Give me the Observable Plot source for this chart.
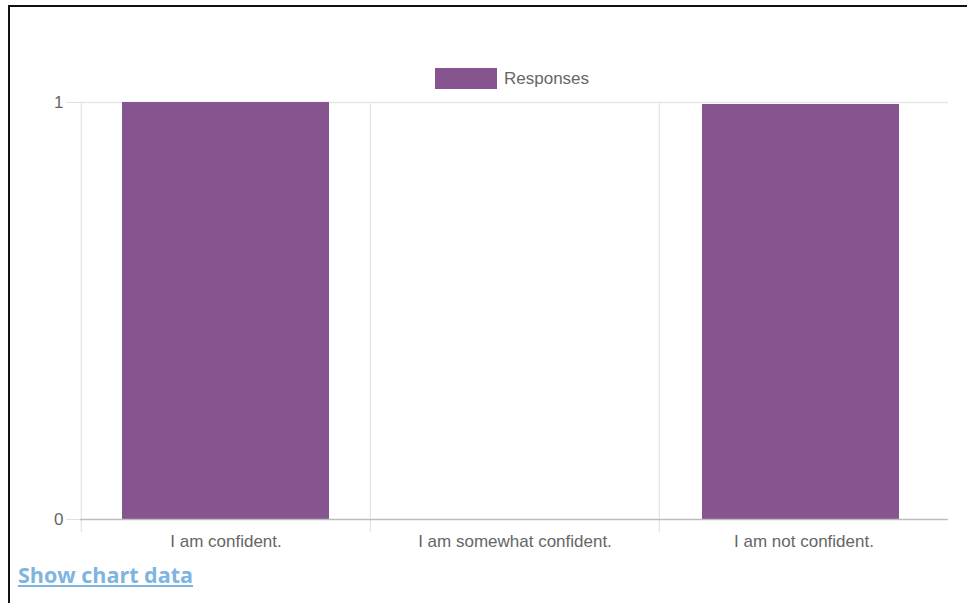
<!DOCTYPE html>
<html>
<head>
<meta charset="utf-8">
<script src="https://cdn.jsdelivr.net/npm/d3@7"></script>
<script src="https://cdn.jsdelivr.net/npm/@observablehq/plot@0.6"></script>
<style>
  html, body { margin: 0; padding: 0; background: #fff; width: 967px; height: 603px; overflow: hidden; }
  #frame { position: absolute; left: 8px; top: 5px; width: 980px; height: 620px; border-top: 2px solid #111; border-left: 2px solid #111; box-sizing: border-box; }
  #chart { position: absolute; left: 0; top: 0; }
  #legend { position: absolute; left: 435px; top: 68px; display: flex; align-items: center; font-family: "Liberation Sans", Arial, sans-serif; font-size: 17px; color: #666; }
  #legend .sw { width: 62px; height: 21px; background: #86548f; margin-right: 7px; }
  #link { position: absolute; left: 18px; top: 560px; font-family: "Open Sans", sans-serif; font-weight: 700; font-size: 21.5px; color: #7db4e0; text-decoration: underline; }
</style>
</head>
<body>
<div id="frame"></div>
<div id="chart"></div>
<div id="legend"><div class="sw"></div><span>Responses</span></div>
<div id="link">Show chart data</div>
<script>
const categories = ["I am confident.", "I am somewhat confident.", "I am not confident."];
const responses = [1, 0, 1];
const yTicks = [0, 1];
const seriesName = "Responses";

const data = categories.map((c, i) => ({category: c, value: responses[i]}));

const W = 967, H = 560, ML = 80, MR = 19, MT = 102, MB = 41;
const step = (W - ML - MR) / categories.length;

const chart = Plot.plot({
  width: W,
  height: H,
  marginLeft: ML,
  marginRight: MR,
  marginTop: MT,
  marginBottom: MB,
  style: {fontFamily: "'Liberation Sans', Arial, sans-serif", fontSize: "17px", color: "#666", background: "transparent"},
  x: {domain: categories, paddingInner: 0.285, paddingOuter: 0.1425, label: null},
  y: {domain: [0, 1], label: null},
  marks: [
    Plot.ruleX(categories, {x: d => d, dx: -step / 2, y1: 0, y2: 1, stroke: "#e6e6e6", strokeWidth: 1.3}),
    Plot.ruleX(categories, {x: d => d, dx: -step / 2, y1: 0, y2: 0, insetBottom: -13, stroke: "#e6e6e6", strokeWidth: 1.3}),
    Plot.gridY([1], {stroke: "#e6e6e6", strokeOpacity: 1, strokeWidth: 1.3}),
    Plot.barY(data.filter(d => d.category !== categories[2]), {x: "category", y: "value", fill: "#86548f"}),
    Plot.barY(data.filter(d => d.category === categories[2]), {x: "category", y: "value", fill: "#86548f", insetLeft: 2, insetRight: 8, insetTop: 2}),
    Plot.ruleY([0], {stroke: "#bdbdbd", strokeWidth: 1.3}),
    Plot.axisY(yTicks, {tickSize: 14, tickPadding: 3, stroke: "#e0e0e0", fill: "#666", fontSize: 17, tickFormat: d3.format("d")}),
    Plot.axisX({tickSize: 0, tickPadding: 15, fill: "#666", fontSize: 17})
  ]
});
document.getElementById("chart").appendChild(chart);
</script>
</body>
</html>
